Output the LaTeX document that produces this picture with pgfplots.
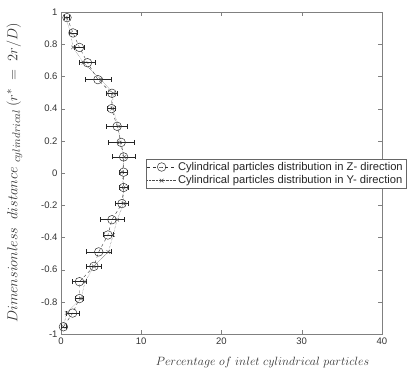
\documentclass[border=0pt]{standalone}
\usepackage{fontspec}
\setmainfont{Liberation Sans}
\usepackage{pgfplots}
\usepackage{pgfplotstable}
\pgfplotsset{compat=1.18}
\pgfplotstableread{
y      x     ex
0.965  0.75  0.3
0.870  1.5   0.5
0.780  2.3   0.6
0.685  3.3   1.0
0.580  4.6   1.6
0.495  6.35  0.7
0.400  6.3   0.5
0.290  7.0   1.3
0.190  7.5   1.6
0.100  7.8   1.4
0.005  7.8   0.5
-0.090 7.8   0.6
-0.190 7.6   0.8
-0.290 6.35  1.5
-0.385 5.85  0.6
-0.490 4.7   1.5
-0.580 4.1   0.9
-0.675 2.3   0.9
-0.780 2.3   0.5
-0.870 1.45  0.8
-0.955 0.3   0.3
}\zdata
\pgfplotstableread{
y      x
0.965  0.6
0.870  1.2
0.780  1.5
0.685  2.8
0.580  5.0
0.495  6.5
0.400  6.4
0.290  7.2
0.190  7.3
0.100  7.9
0.005  7.6
-0.090 7.8
-0.190 7.8
-0.290 7.0
-0.385 6.5
-0.490 5.9
-0.580 4.1
-0.675 3.0
-0.780 2.5
-0.870 0.7
-0.955 0.3
}\ydata
\begin{document}
\begin{tikzpicture}
\path[use as bounding box] (-61pt,-42pt) rectangle (352pt,334pt);
\begin{axis}[
  at={(0pt,0pt)}, anchor=south west,
  scale only axis, width=321pt, height=322pt,
  xmin=0, xmax=40, ymin=-1, ymax=1,
  xtick={0,10,20,30,40},
  ytick={-1,-0.8,-0.6,-0.4,-0.2,0,0.2,0.4,0.6,0.8,1},
  yticklabels={-1,-0.8,-0.6,-0.4,-0.2,0,0.2,0.4,0.6,0.8,1},
  tick align=inside,
  major tick length=4pt,
  /pgf/number format/assume math mode=true,
  ticklabel style={font=\fontsize{9.5}{11}\selectfont, text=black!80},
  axis line style={black!50},
  tick style={black!50},
  xlabel={$Percentage\ of\ inlet\ cylindrical\ particles$},
  ylabel={$Dimensionless\ \ distance\ _{cylindrical}\,(r^{*}\;=\;2r/D)$},
  xlabel style={font=\fontsize{12.7}{15}\selectfont, text=black!80, at={(axis description cs:0.628,-0.087)}, anchor=center},
  ylabel style={font=\fontsize{15}{17}\selectfont, text=black!80, at={(axis description cs:-0.145,0.5)}, anchor=center},
  legend style={at={(axis description cs:0.2648,0.5435)}, anchor=north west,
    font=\fontsize{11.2}{12.5}\selectfont, draw=black!60, inner sep=1pt,
    row sep=0pt, cells={anchor=west}, text=black!85},
  legend image code/.code={%
    \draw[mark repeat=2, mark phase=2, #1] plot coordinates {(0cm,0cm) (0.5cm,0cm) (1.0cm,0cm)};},
]
\addplot[black!80, dashed, mark=o, mark size=4.3pt, mark options={solid, line width=0.5pt},
  error bars/.cd, x dir=both, x explicit,
  error bar style={black!85, solid, line width=0.5pt},
  error mark options={rotate=90, mark size=2.5pt, black!85, line width=0.5pt}]
  table[x=x, y=y, x error=ex] {\zdata};
\addlegendentry{Cylindrical particles distribution in Z- direction}
\addplot[black!70, densely dotted, mark=x, mark size=2.5pt, mark options={solid}]
  table[x=x, y=y] {\ydata};
\addlegendentry{Cylindrical particles distribution in Y- direction}
\end{axis}
\end{tikzpicture}
\end{document}
